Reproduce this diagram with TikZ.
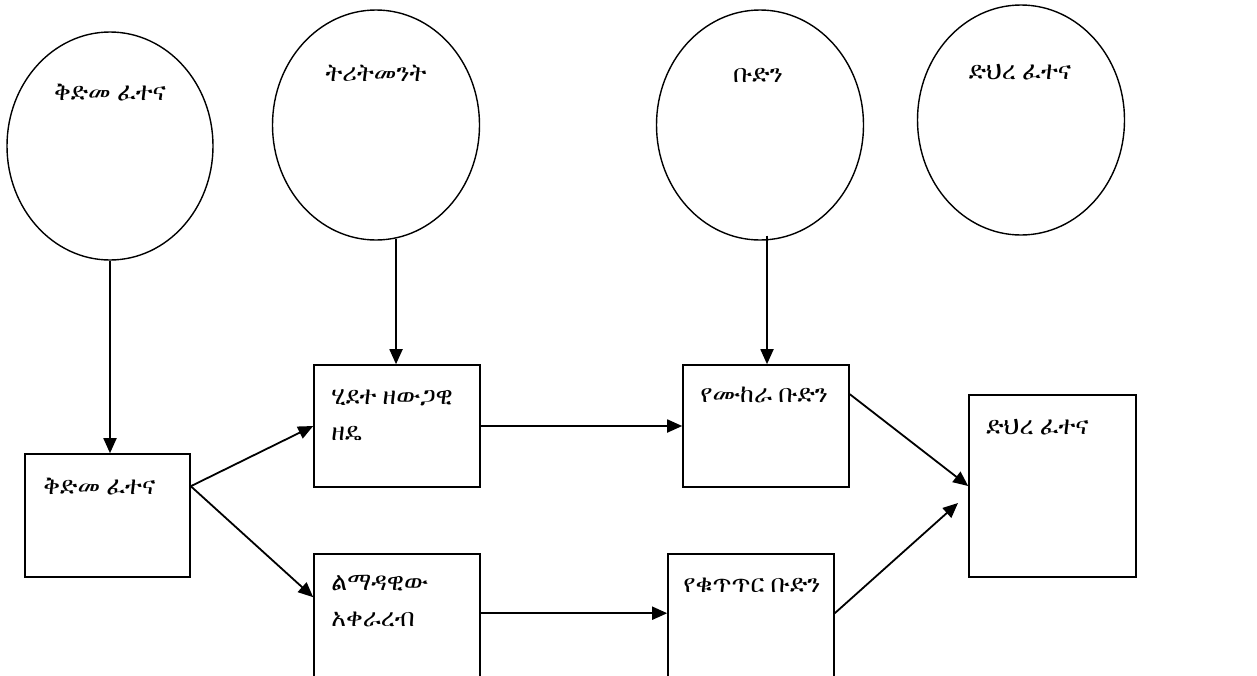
\documentclass[tikz,border=0pt]{standalone}
\usepackage{fontspec}
\newfontfamily\ethA{Abyssinica SIL}
\IfFontExistsTF{FreeSerif}{\newfontfamily\ethB{FreeSerif}}{\newfontfamily\ethB{Abyssinica SIL}}
\newif\ifuseB
{\ethB\iffontchar\font"1245 \global\useBtrue\fi}
\ifuseB\let\eth\ethB\else\let\eth\ethA\fi
\usetikzlibrary{arrows.meta,shapes.geometric,calc}
\tikzset{
  circ/.style={draw,ellipse,line width=0.7pt,inner sep=0pt},
  boxn/.style={draw,rectangle,line width=0.8pt,inner sep=0pt},
  arr/.style={line width=0.9pt,-{Triangle[length=7.5pt,width=6.5pt]}},
  txt/.style={font=\eth\fontsize{12.5}{18}\selectfont,inner sep=0pt,align=left},
}
\begin{document}
\begin{tikzpicture}[x=0.5pt,y=-0.5pt]
\clip (0,0) rectangle (1257,675);
\useasboundingbox (0,0) rectangle (1257,675);
% circles
\node[circ,minimum width=103pt,minimum height=114pt] (c1) at (110,146) {};
\node[circ,minimum width=103.5pt,minimum height=115pt] (c2) at (376,125) {};
\node[circ,minimum width=103.5pt,minimum height=115pt] (c3) at (760,125) {};
\node[circ,minimum width=103.5pt,minimum height=115pt] (c4) at (1021,120) {};
\node[txt] (t1) at (110,93) {ቅድመ ፈተና};
\node[txt] (t2) at (376,73) {ትሪትመንት};
\node[txt] (t3) at (758,75) {ቡድን};
\node[txt] (t4) at (1020,72) {ድህረ ፈተና};
% boxes
\node[boxn,minimum width=82.5pt,minimum height=61.5pt] (b1) at (107.5,515.5) {};
\node[boxn,minimum width=83pt,minimum height=61pt] (b2) at (397,426) {};
\node[boxn,minimum width=83pt,minimum height=73pt] (b3) at (397,627) {};
\node[boxn,minimum width=83pt,minimum height=61pt] (b4) at (766,426) {};
\node[boxn,minimum width=83pt,minimum height=73pt] (b5) at (751,627) {};
\node[boxn,minimum width=83.5pt,minimum height=91pt] (b6) at (1052.5,486) {};
\node[txt,anchor=west] (u1) at (43,487) {ቅድመ ፈተና};
\node[txt,anchor=west] (u2) at (331,415) {ሂደተ ዘውጋዊ\\ዘዴ};
\node[txt,anchor=west] (u3) at (331,601) {ልማዳዊው\\አቀራረብ};
\node[txt,anchor=west] (u4) at (700,395) {የሙከራ ቡድን};
\node[txt,anchor=west] (u5) at (683,585) {የቁጥጥር ቡድን};
\node[txt,anchor=west] (u6) at (986,427) {ድህረ ፈተና};
% connectors
\draw[arr] (c1.south) -- (c1.south |- b1.north);
\draw[arr] (c2.-80) -- (c2.-80 |- b2.north);
\coordinate (c3o) at ($(c3.south)+(7,-5)$);
\draw[arr] (c3o) -- (c3o |- b4.north);
\coordinate (o1) at ($(b1.north east)+(0,33)$);
\draw[arr] (o1) -- (b2.west);
\draw[arr] (o1) -- ($(b3.north west)+(0,44)$);
\draw[arr] (b2.east) -- (b4.west);
\draw[arr] ($(b3.north east)+(0,60)$) -- ($(b5.north west)+(0,60)$);
\draw[arr] ($(b4.north east)+(0,30)$) -- (b6.west);
\coordinate (e5) at (958,503);
\draw[arr] ($(b5.north east)+(0,60)$) -- (e5);
\end{tikzpicture}
\end{document}
